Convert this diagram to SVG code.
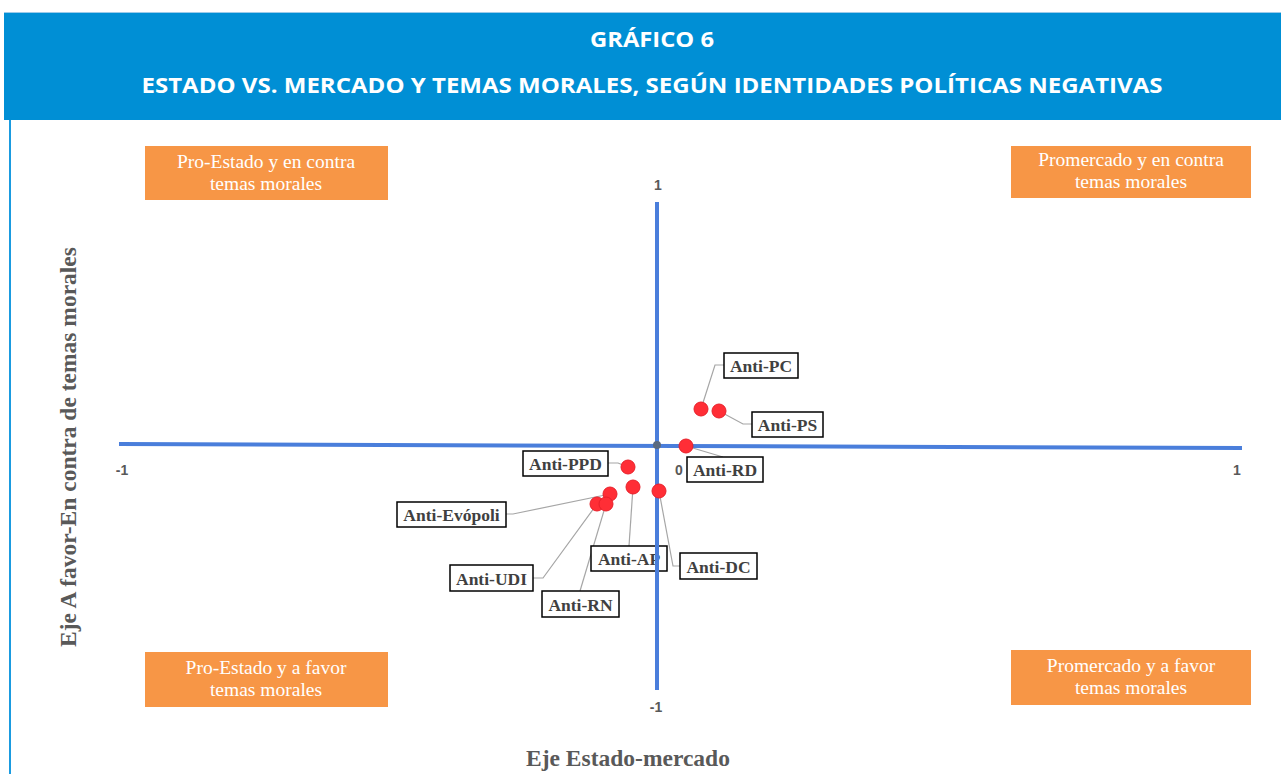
<svg xmlns="http://www.w3.org/2000/svg" width="1281" height="774" viewBox="0 0 1281 774">
<style>
.title{font-family:"Open Sans","Liberation Sans",sans-serif;font-weight:bold;fill:#fff;font-size:22px;text-anchor:middle}
.quad{fill:#F79646}
.qt{font-family:"Liberation Serif",serif;fill:#fff;font-size:19.5px;text-anchor:middle}
.tick{font-family:"Liberation Sans",sans-serif;font-weight:bold;fill:#595959;font-size:14px;text-anchor:middle}
.axt{font-family:"Liberation Serif",serif;font-weight:bold;fill:#595959;font-size:23.5px;text-anchor:middle}
.lbl rect{fill:#fff;stroke:#000;stroke-width:1.5}
.lbl text{font-family:"Liberation Serif",serif;font-weight:bold;fill:#404040;font-size:17.5px;text-anchor:middle}
.pt{fill:#FF2E36;stroke:#E8202A;stroke-width:1}
.lead{fill:none;stroke:#A6A6A6;stroke-width:1.2}
.axis{stroke:#4A7EDB;stroke-width:4}
</style>
<rect width="1281" height="774" fill="#fff"/>
<g id="header">
<rect x="4" y="12" width="1277" height="108" fill="#008FD5"/>
<line x1="4" y1="12.5" x2="1281" y2="12.5" stroke="#9CCBEA" stroke-width="1"/>
<text class="title" x="652" y="47" textLength="124" lengthAdjust="spacingAndGlyphs">GRÁFICO 6</text>
<text class="title" x="652" y="93" textLength="1021" lengthAdjust="spacingAndGlyphs">ESTADO VS. MERCADO Y TEMAS MORALES, SEGÚN IDENTIDADES POLÍTICAS NEGATIVAS</text>
</g>
<line x1="10" y1="120" x2="10" y2="774" stroke="#1A9BE0" stroke-width="2"/>
<g id="quadrants">
<g id="q-tl"><rect class="quad" x="145" y="146" width="243" height="54"/><text class="qt" x="266" y="168">Pro-Estado y en contra</text><text class="qt" x="266" y="190">temas morales</text></g>
<g id="q-tr"><rect class="quad" x="1011" y="146" width="240" height="52"/><text class="qt" x="1131" y="166">Promercado y en contra</text><text class="qt" x="1131" y="188">temas morales</text></g>
<g id="q-bl"><rect class="quad" x="145" y="652" width="243" height="55"/><text class="qt" x="266" y="674">Pro-Estado y a favor</text><text class="qt" x="266" y="696">temas morales</text></g>
<g id="q-br"><rect class="quad" x="1011" y="650" width="240" height="55"/><text class="qt" x="1131" y="672">Promercado y a favor</text><text class="qt" x="1131" y="694">temas morales</text></g>
</g>
<g id="connectors">
<polyline class="lead" points="701,409 715,365 724,365"/>
<polyline class="lead" points="719,411 743,424 752,424"/>
<polyline class="lead" points="686,446 723,457"/>
<polyline class="lead" points="608,463 618,463 628,467"/>
<polyline class="lead" points="506,514 513,514 610,494"/>
<polyline class="lead" points="633,487 629,546"/>
<polyline class="lead" points="659,491 673,566 680,566"/>
<polyline class="lead" points="533,578 543,578 597,504"/>
<polyline class="lead" points="580,591 606,504"/>
</g>
<g id="labels">
<g id="l-pc" class="lbl"><rect x="724" y="353" width="74" height="25"/><text x="761" y="372">Anti-PC</text></g>
<g id="l-ps" class="lbl"><rect x="752" y="412" width="71" height="25"/><text x="787.5" y="431">Anti-PS</text></g>
<g id="l-rd" class="lbl"><rect x="687" y="457" width="76" height="25"/><text x="725" y="476">Anti-RD</text></g>
<g id="l-ppd" class="lbl"><rect x="523" y="451" width="85" height="25"/><text x="565.5" y="470">Anti-PPD</text></g>
<g id="l-evo" class="lbl"><rect x="397" y="502" width="109" height="25"/><text x="451.5" y="521">Anti-Evópoli</text></g>
<g id="l-ap" class="lbl"><rect x="591" y="546" width="76" height="25"/><text x="629" y="565">Anti-AP</text></g>
<g id="l-dc" class="lbl"><rect x="680" y="553" width="77" height="26"/><text x="718.5" y="573">Anti-DC</text></g>
<g id="l-udi" class="lbl"><rect x="450" y="565" width="83" height="26"/><text x="491.5" y="585">Anti-UDI</text></g>
<g id="l-rn" class="lbl"><rect x="542" y="591" width="77" height="26"/><text x="580.5" y="611">Anti-RN</text></g>
</g>
<g id="axes">
<line class="axis" x1="119" y1="444" x2="1242" y2="448"/>
<line class="axis" x1="657" y1="202" x2="657" y2="690"/>
<circle cx="657" cy="445" r="4" fill="#5A6A80"/>
<text class="tick" x="658" y="190">1</text>
<text class="tick" x="122" y="475">-1</text>
<text class="tick" x="1237" y="475">1</text>
<text class="tick" x="679" y="475">0</text>
<text class="tick" x="656" y="712">-1</text>
</g>
<g id="points">
<circle class="pt" cx="701" cy="409" r="7"/>
<circle class="pt" cx="719" cy="411" r="7"/>
<circle class="pt" cx="686" cy="446" r="7"/>
<circle class="pt" cx="628" cy="467" r="7"/>
<circle class="pt" cx="633" cy="487" r="7"/>
<circle class="pt" cx="659" cy="491" r="7"/>
<circle class="pt" cx="610" cy="494" r="7"/>
<circle class="pt" cx="597" cy="504" r="7"/>
<circle class="pt" cx="606" cy="504" r="7"/>
</g>
<g id="axis-titles">
<text class="axt" x="628" y="766">Eje Estado-mercado</text>
<text class="axt" transform="translate(76,447) rotate(-90)">Eje A favor-En contra de temas morales</text>
</g>
</svg>
